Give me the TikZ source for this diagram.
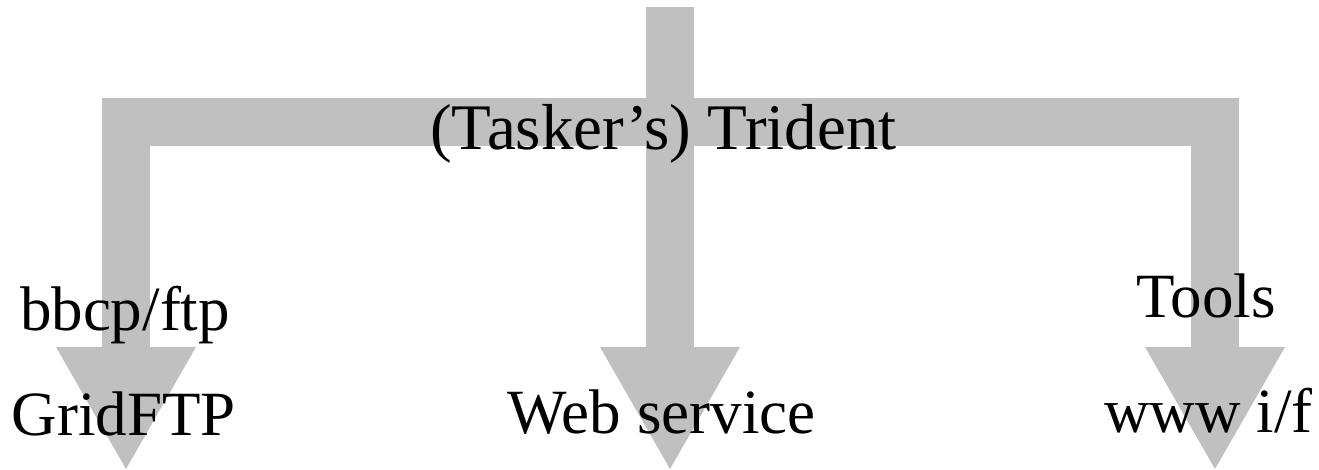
\documentclass[tikz,border=0pt]{standalone}
\usepackage{fontspec}
\setmainfont{Liberation Serif}
\definecolor{prongGray}{RGB}{192,192,192}
\begin{document}
\begin{tikzpicture}[x=1pt,y=-1pt,
  prong/.style={fill=prongGray,draw=none},
  lbl/.style={inner sep=0pt,anchor=base,font=\fontsize{63}{70}\selectfont}]
\useasboundingbox(0,0)rectangle(1319,470);
% shaft and cross bar
\fill[prong](646,7)rectangle(694,348);
\fill[prong](102,98)rectangle(1239,146);
% three prongs
\foreach \x/\n in {126/gridTip,670/webTip,1215/toolTip}{
  \fill[prong](\x-24,146)rectangle(\x+24,348);
  \fill[prong](\x-70,347)--(\x+70,347)--(\x,469)coordinate(\n)--cycle;
}
\node[lbl,font=\fontsize{65}{72}\selectfont](trident)at(663.5,150){(Tasker’s) Trident};
\node[lbl](bbcp)at(125,330){bbcp/ftp};
\node[lbl](gridftp)at(124,435){GridFTP};
\node[lbl](websvc)at(661.5,433){Web service};
\node[lbl](tools)at(1206,317){Tools};
\node[lbl](wwwif)at(1208.5,432){www i/f};
\end{tikzpicture}
\end{document}
